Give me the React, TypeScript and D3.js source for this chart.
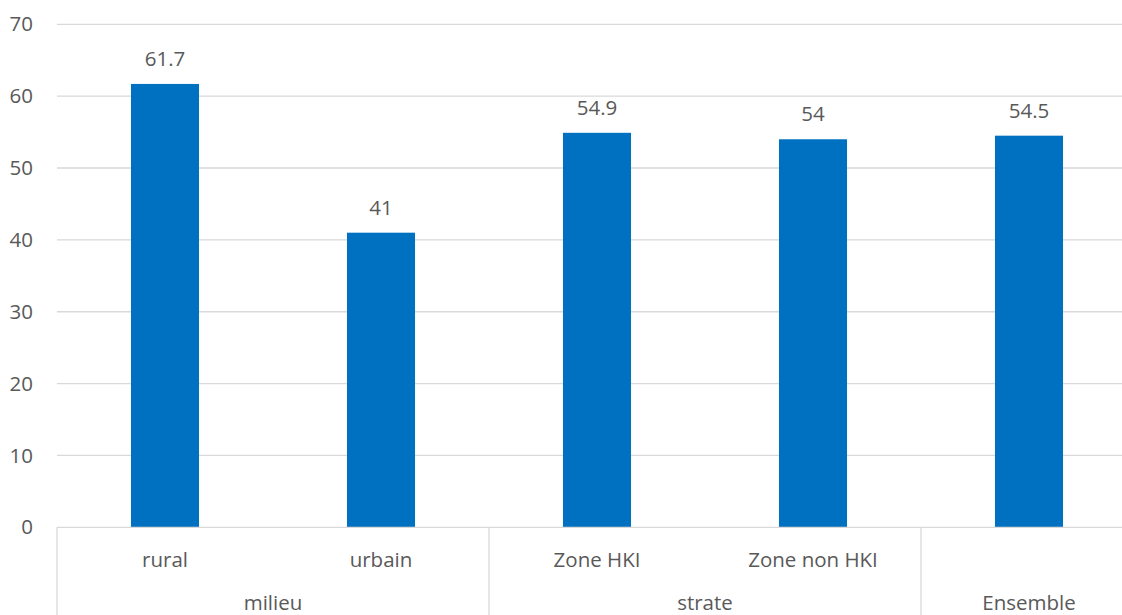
import React from "react";
import * as d3 from "d3";

// Category data
const categories = ["rural", "urbain", "Zone HKI", "Zone non HKI", "Ensemble"];
const values = [61.7, 41, 54.9, 54, 54.5];
const groups = ["milieu", "milieu", "strate", "strate", "Ensemble"];
const groupNames = ["milieu", "strate", "Ensemble"];
const yTicks = [0, 10, 20, 30, 40, 50, 60, 70];

const W = 1122;
const H = 615;
const FONT = "'Open Sans', 'Noto Sans', sans-serif";
const FS = 20.5;
const TEXT = "#595959";
const GRID = "#d9d9d9";
const BAR = "#0070C0";

export default function App() {
  const left = 57;
  const right = 1137;
  const y0 = 527.3;
  const yTop = 24.3;

  const x = d3.scaleBand<string>().domain(categories).range([left, right]).paddingInner(0.685).paddingOuter(0.3425);
  const y = d3.scaleLinear().domain([0, 70]).range([y0, yTop]);
  const step = x.step();

  // group spans along the axis
  const spans = groupNames.map((g) => {
    const idx = categories.map((c, i) => (groups[i] === g ? i : -1)).filter((i) => i >= 0);
    const start = left + idx[0] * step;
    const end = left + (idx[idx.length - 1] + 1) * step;
    return { g, start, end };
  });

  return (
    <svg
      width={W}
      height={H}
      style={{ position: "absolute", left: 0, top: 0, background: "#fff" }}
      fontFamily={FONT}
    >
      {yTicks.map((t) => (
        <g key={t}>
          {t > 0 && (
            <line x1={left} x2={W} y1={y(t)} y2={y(t)} stroke={GRID} strokeWidth={1.3} />
          )}
          <text x={33} y={y(t)} dy="0.35em" textAnchor="end" fontSize={FS} fill={TEXT}>
            {t}
          </text>
        </g>
      ))}
      {categories.map((c, i) => (
        <g key={c}>
          <rect x={x(c)} y={y(values[i])} width={x.bandwidth()} height={y0 - y(values[i])} fill={BAR} />
          <text
            x={(x(c) as number) + x.bandwidth() / 2}
            y={y(values[i]) - 18}
            textAnchor="middle"
            fontSize={FS}
            fill={TEXT}
          >
            {values[i]}
          </text>
          {groups[i] !== c && (
            <text
              x={(x(c) as number) + x.bandwidth() / 2}
              y={567}
              textAnchor="middle"
              fontSize={FS}
              fill={TEXT}
            >
              {c}
            </text>
          )}
        </g>
      ))}
      {/* category axis */}
      <line x1={left} x2={W} y1={y0} y2={y0} stroke={GRID} strokeWidth={1.3} />
      {spans.map((s) => (
        <g key={s.g}>
          <line x1={s.start} x2={s.start} y1={y0} y2={H} stroke={GRID} strokeWidth={1.3} />
          <text x={(s.start + s.end) / 2} y={610} textAnchor="middle" fontSize={FS} fill={TEXT}>
            {s.g}
          </text>
        </g>
      ))}
    </svg>
  );
}
